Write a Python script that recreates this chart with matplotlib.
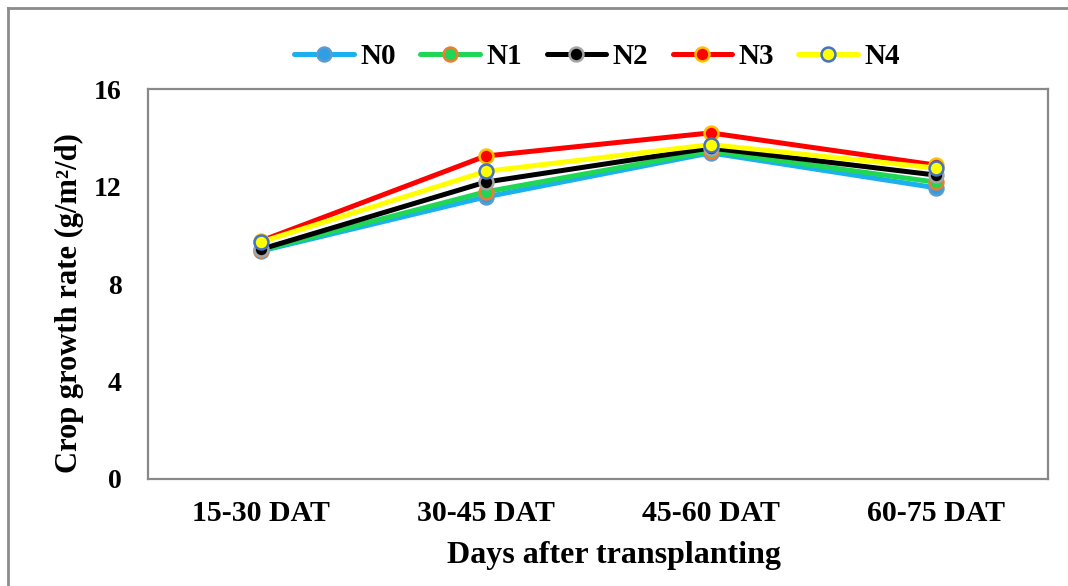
import matplotlib
matplotlib.use("Agg")
import matplotlib.pyplot as plt
from matplotlib.lines import Line2D

# Crop growth rate by nitrogen treatment across growth stages
periods = ["15-30 DAT", "30-45 DAT", "45-60 DAT", "60-75 DAT"]
treatments = ["N0", "N1", "N2", "N3", "N4"]
n0 = [9.35, 11.57, 13.38, 11.95]
n1 = [9.38, 11.78, 13.45, 12.18]
n2 = [9.42, 12.18, 13.58, 12.47]
n3 = [9.76, 13.25, 14.20, 12.88]
n4 = [9.72, 12.62, 13.72, 12.76]
series = [n0, n1, n2, n3, n4]

line_colors = ["#1BB0EE", "#1FD655", "#000000", "#FF0000", "#FFFF00"]
face_colors = ["#2F9FE3", "#1FD655", "#000000", "#FF0000", "#FFFF00"]
edge_colors = ["#5B9BD5", "#ED7D31", "#A5A5A5", "#FFC000", "#4472C4"]
yticks = [0, 4, 8, 12, 16]

plt.rcParams["font.family"] = ["Liberation Serif", "DejaVu Serif"]
plt.rcParams["font.weight"] = "bold"

fig = plt.figure(figsize=(10.68, 5.86), dpi=100)
ax = fig.add_axes([0.1386, 0.1826, 0.8427, 0.6655])

x = list(range(len(periods)))
for name, vals, lc, fc, ec in zip(treatments, series, line_colors, face_colors, edge_colors):
    ax.plot(x, vals, color=lc, lw=3.6, marker="o", ms=10,
            markerfacecolor=fc, markeredgecolor=ec, markeredgewidth=1.8,
            label=name, solid_capstyle="round")

ax.set_xlim(-0.5, len(periods) - 0.5)
ax.set_ylim(0, 16)
ax.set_yticks(yticks)
ax.set_yticklabels([str(t) for t in yticks], fontsize=20, fontweight="bold")
ax.set_xticks(x)
ax.set_xticklabels(periods, fontsize=21.5, fontweight="bold")
ax.tick_params(axis="y", length=0, pad=19)
ax.tick_params(axis="x", length=0, pad=15)

for sp in ax.spines.values():
    sp.set_color("#898989")
    sp.set_linewidth(1.6)

ax.set_ylabel("Crop growth rate (g/m²/d)", fontsize=22, fontweight="bold")
ax.set_xlabel("Days after transplanting", fontsize=23, fontweight="bold")
ax.yaxis.set_label_coords(-0.071, 0.45)
ax.xaxis.set_label_coords(0.518, -0.158)

leg = fig.legend(loc="center", bbox_to_anchor=(0.559, 0.903), ncol=5, frameon=False,
                 prop={"size": 21, "weight": "bold"}, handlelength=2.05,
                 columnspacing=0.85, handletextpad=0.2)

# Outer frame along the top and left edges
fig.add_artist(Line2D([8 / 1068, 1.0], [1 - 8 / 586, 1 - 8 / 586],
                      transform=fig.transFigure, color="#8C8C8C", lw=2))
fig.add_artist(Line2D([8 / 1068, 8 / 1068], [0, 1 - 8 / 586],
                      transform=fig.transFigure, color="#8C8C8C", lw=2))

fig.savefig("out.png", dpi=100, facecolor="white")
